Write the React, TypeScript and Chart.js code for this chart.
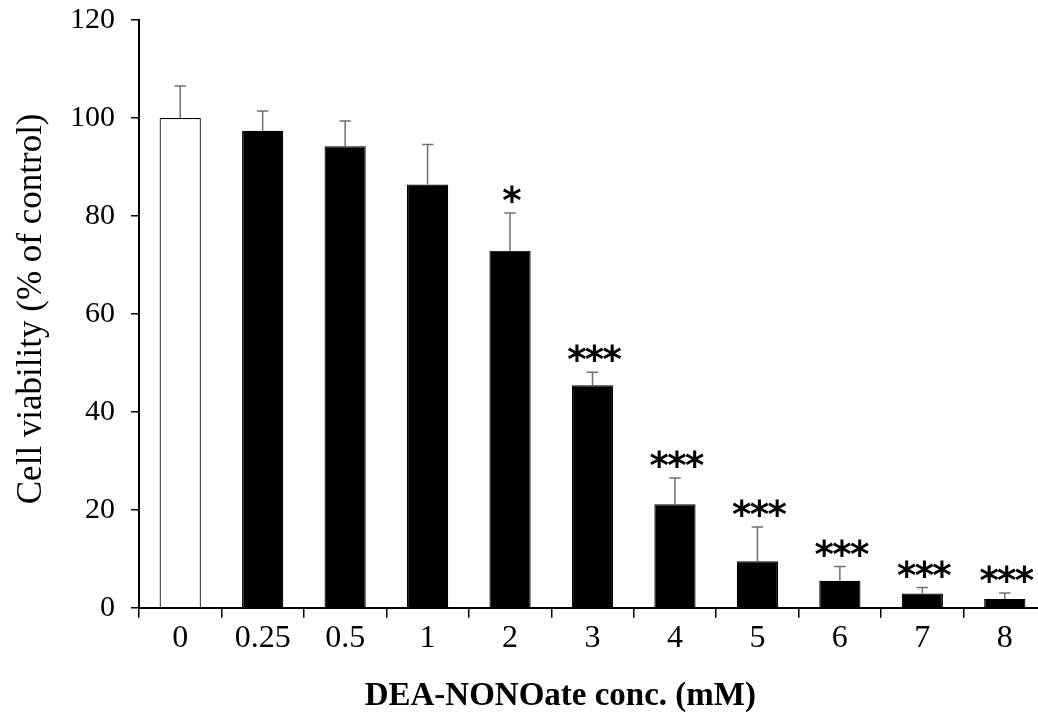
import React, { useEffect, useRef } from "react";
import { Chart, registerables } from "chart.js";

Chart.register(...registerables);

const categories = ["0", "0.25", "0.5", "1", "2", "3", "4", "5", "6", "7", "8"];
const means = [100, 97.4, 94.2, 86.4, 72.9, 45.4, 21.1, 9.5, 5.5, 2.9, 1.8];
const errors = [6.5, 4.0, 5.2, 8.2, 7.7, 2.7, 5.4, 7.0, 2.9, 1.2, 1.2];
const significance = ["", "", "", "", "*", "***", "***", "***", "***", "***", "***"];
const barFills = ["#ffffff", "#000000", "#000000", "#000000", "#000000", "#000000", "#000000", "#000000", "#000000", "#000000", "#000000"];
const yTicks = [0, 20, 40, 60, 80, 100, 120];
const xTitle = "DEA-NONOate conc. (mM)";
const yTitle = "Cell viability (% of control)";

const SERIF = '"Liberation Serif", "Times New Roman", serif';

const annotations = {
  id: "annotations",
  afterDatasetsDraw(chart: any) {
    const { ctx, scales } = chart;
    const y = scales.y;
    const meta = chart.getDatasetMeta(0);
    ctx.save();
    means.forEach((m, i) => {
      const bar = meta.data[i];
      const cx = bar.x;
      const yTop = y.getPixelForValue(m);
      const yErr = y.getPixelForValue(m + errors[i]);
      ctx.strokeStyle = "#707070";
      ctx.lineWidth = 1.5;
      ctx.beginPath();
      ctx.moveTo(cx, yTop);
      ctx.lineTo(cx, yErr);
      ctx.moveTo(cx - 5.7, yErr);
      ctx.lineTo(cx + 5.7, yErr);
      ctx.stroke();
      const s = significance[i];
      if (s) {
        ctx.fillStyle = "#000000";
        ctx.font = 'bold 37px "DejaVu Sans"';
        ctx.textAlign = "center";
        ctx.textBaseline = "alphabetic";
        const mt = ctx.measureText("*");
        const base = yErr - 10 - mt.actualBoundingBoxDescent;
        const n = s.length;
        for (let k = 0; k < n; k++) {
          const px = cx + 2 + (k - (n - 1) / 2) * 17.7;
          ctx.fillText("*", px, base);
        }
      }
    });
    ctx.restore();
  },
  afterDraw(chart: any) {
    const { ctx, chartArea } = chart;
    ctx.save();
    ctx.fillStyle = "#000000";
    ctx.font = `bold 33px ${SERIF}`;
    ctx.textAlign = "center";
    ctx.textBaseline = "alphabetic";
    ctx.fillText(xTitle, chartArea.left + chartArea.width * 0.4645, chartArea.bottom + 97);
    ctx.translate(40.5, (chartArea.top + chartArea.bottom) / 2 - 5);
    ctx.rotate(-Math.PI / 2);
    ctx.font = `35px ${SERIF}`;
    ctx.fillText(yTitle, 0, 0);
    ctx.restore();
  },
};

export default function App() {
  const ref = useRef<HTMLCanvasElement>(null);
  useEffect(() => {
    if (!ref.current) return;
    const chart = new Chart(ref.current, {
      type: "bar",
      data: {
        labels: categories,
        datasets: [
          {
            data: means,
            backgroundColor: barFills,
            borderColor: "#000000",
            borderWidth: 1.2,
            barPercentage: 0.5,
            categoryPercentage: 1,
          },
        ],
      },
      options: {
        responsive: false,
        animation: false,
        devicePixelRatio: 1,
        layout: { padding: { top: 20, left: 0, right: 0, bottom: 0 } },
        plugins: { legend: { display: false }, tooltip: { enabled: false } },
        scales: {
          x: {
            offset: true,
            grid: {
              display: true,
              offset: true,
              drawOnChartArea: false,
              drawTicks: true,
              tickLength: 10,
              color: "#000000",
              lineWidth: 1.5,
            },
            border: { display: true, color: "#000000", width: 2 },
            ticks: { color: "#000000", font: { family: SERIF, size: 32 }, padding: 2, maxRotation: 0, autoSkip: false },
            afterFit(scale: any) {
              scale.height = 108.3;
              scale.paddingLeft = 0;
              scale.paddingRight = 0;
            },
          },
          y: {
            min: 0,
            max: 120,
            afterBuildTicks(scale: any) {
              scale.ticks = yTicks.map((v) => ({ value: v }));
            },
            grid: {
              display: true,
              drawOnChartArea: false,
              drawTicks: true,
              tickLength: 8,
              color: "#000000",
              lineWidth: 1.5,
            },
            border: { display: true, color: "#000000", width: 2 },
            ticks: { color: "#000000", font: { family: SERIF, size: 30 }, padding: 16 },
            afterFit(scale: any) {
              scale.width = 139;
              scale.paddingTop = 0;
              scale.paddingBottom = 0;
            },
          },
        },
      },
      plugins: [annotations],
    });
    return () => chart.destroy();
  }, []);
  return (
    <div style={{ position: "fixed", left: 0, top: 0, width: 1046, height: 716, background: "#ffffff" }}>
      <canvas ref={ref} width={1046} height={716} />
    </div>
  );
}
